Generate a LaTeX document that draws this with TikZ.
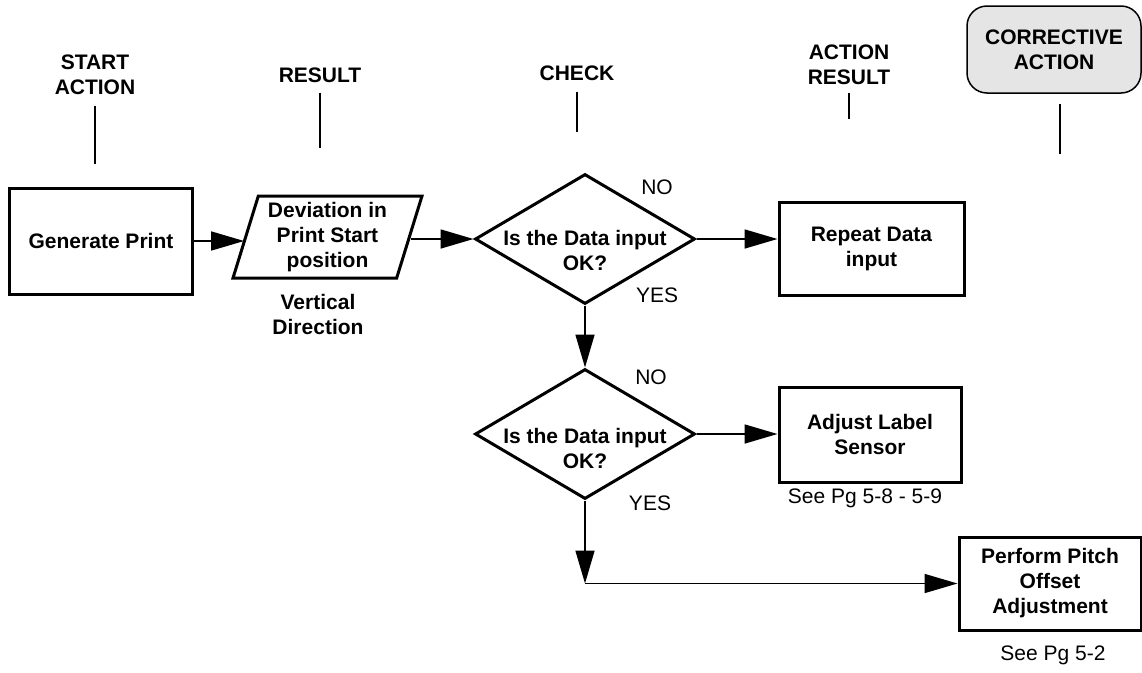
\documentclass[tikz,border=0pt]{standalone}
\usepackage{fontspec}
\setmainfont{Liberation Sans}
\usetikzlibrary{arrows.meta, calc, positioning, shapes.geometric}

\begin{document}
\begin{tikzpicture}[x=1pt, y=-1pt, % one unit = one pixel, y downward
         > = {Triangle[length=33pt, width=19pt]},
  lbl/.style = {font=\fontsize{21}{25}\selectfont\bfseries, align=center,
                inner sep=2pt},
 note/.style = {font=\fontsize{21}{25}\selectfont, align=center,
                inner sep=2pt},
 stub/.style = {line width=1.5pt},
 flow/.style = {->, line width=1.6pt},
  box/.style args = {#1/#2}{draw, line width=3pt, lbl,
                            minimum width=#1, minimum height=#2},
 para/.style = {draw, line width=3pt, lbl, trapezium,
                trapezium left angle=70, trapezium right angle=110,
                trapezium stretches body,
                minimum width=189pt, minimum height=82pt, inner sep=0pt},
  ask/.style = {draw, line width=3pt, diamond,
                minimum width=220pt, minimum height=130pt, inner sep=0pt},
 corr/.style = {draw, line width=1.5pt, rounded corners=20pt,
                fill=black!10, lbl, minimum width=174pt, minimum height=87pt}
                        ]
	\useasboundingbox (0,0) rectangle (1142,672);

	% column headings
	\node[lbl]  (start)  at (95,74.5)   {START\\ACTION};
	\node[lbl]  (result) at (320,75)    {RESULT};
	\node[lbl]  (check)  at (577,73)    {CHECK};
	\node[lbl]  (actres) at (849,64.5)  {ACTION\\RESULT};
	\node[corr] (corrective) at (1054,49.5) {CORRECTIVE\\ACTION};

	\draw[stub] (start.south)  ++(0,9) -- ++(0,58);
	\draw[stub] (result.south) ++(0,8) -- ++(0,55);
	\draw[stub] (check.south)  ++(0,9) -- ++(0,40);
	\draw[stub] (actres.south) ++(0,6) -- ++(0,26);
	\draw[stub] ($(corrective.south)+(6,10)$) -- ++(0,50);

	% first row
	\node[box=183pt/106pt] (gen) at (101,241)   {Generate Print};
	\node[para]            (dev) at (327.5,237) {Deviation in\\Print Start\\position};
	\node[lbl] (vdir) at (318,314.5) {Vertical\\Direction};
	\node[ask] (q1) at (585,239) {};
	\node[lbl] (q1txt) at ($(q1)+(0,11)$) {Is the Data input\\OK?};
	\node[note] (no1)  at (657,187) {NO};
	\node[note] (yes1) at (657,295) {YES};
	\node[box=185pt/93pt] (rep) at (871.5,248.5) {Repeat Data\\input};

	\draw[flow] (gen.east) -- (gen.east -| dev.west);
	\draw[flow] (dev.east |- q1.west) -- (q1.west);
	\draw[flow] (q1.east) -- (q1.east -| rep.west);

	% second check
	\node[ask] (q2) at (585,434) {};
	\node[lbl] (q2txt) at ($(q2)+(0,14)$) {Is the Data input\\OK?};
	\node[note] (no2)  at (651,377) {NO};
	\node[note] (yes2) at (650,503) {YES};
	\node[box=182pt/95pt] (adj) at (870,434.5) {Adjust Label\\Sensor};
	\node[note] (see1) at (865,498) {See Pg 5-8 - 5-9};

	\draw[flow] (q1) -- (q2);
	\draw[flow] (q2.east) -- (q2.east -| adj.west);

	% last step
	\node[box=182pt/93pt] (perf) at (1050,583.5) {Perform Pitch\\Offset\\Adjustment};
	\node[note] (see2) at (1053,655) {See Pg 5-2};
	\coordinate (bend) at (q2.south |- perf.west);

	\draw[flow] (q2.south) -- (bend);
	\draw[flow] (bend) -- (perf.west);
\end{tikzpicture}
\end{document}
